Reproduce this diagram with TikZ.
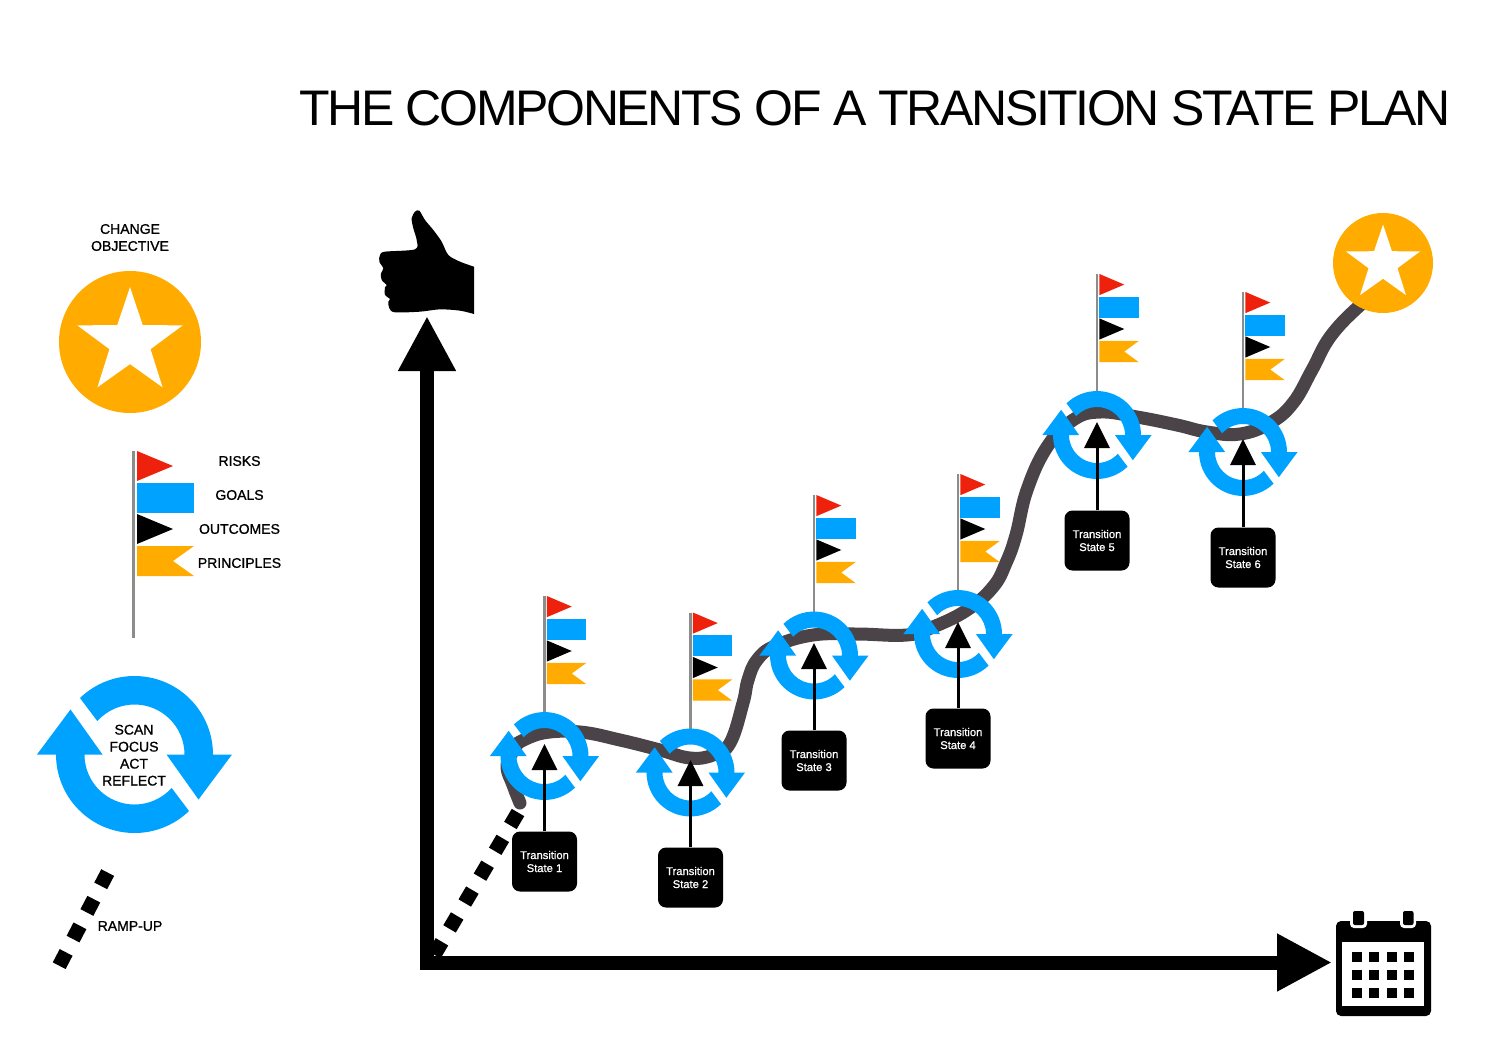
\documentclass[tikz,border=0pt]{standalone}
\usepackage{fontspec}
\setmainfont{Liberation Sans}
\newfontfamily\titlefont[LetterSpace=-4.7]{Liberation Sans}
\newfontfamily\labfont[FakeBold=1]{Liberation Sans}
\usetikzlibrary{arrows.meta}
\definecolor{cblue}{HTML}{00A2FF}
\definecolor{cred}{HTML}{EE220C}
\definecolor{corange}{HTML}{FFAB00}
\definecolor{croad}{HTML}{4A4449}
\definecolor{cpole}{HTML}{8C8C8C}
\tikzset{
  lab/.style={font=\labfont\fontsize{14}{17}\selectfont,align=center,inner sep=0pt,text=black},
  tsbox/.style={fill=black,rounded corners=8pt,minimum width=65pt,minimum height=60pt,inner sep=0pt,align=center,text=white,font=\labfont\fontsize{11.2}{13}\selectfont},
  tsarrow/.style={line width=3pt,-{Triangle[width=25pt,length=26pt]},black},
  axisline/.style={line width=14pt,-{Triangle[width=54pt,length=55pt]},black},
  rampline/.style={line width=14.5pt,black,dash pattern=on 15pt off 15pt},
  roadline/.style={line width=13pt,croad,line cap=round,line join=round},
  polestyle/.style={line width=2pt,cpole}
}
\newcommand{\cycleicon}[3]{%
  \begin{scope}[shift={(#1,#2)},scale=#3,yscale=-1]
    \foreach \r in {0,180}{
      \fill[cblue,rotate=\r] (134:78.5) arc[start angle=134,end angle=0,radius=78.5]
        -- (97.5,0) -- (64,-45) -- (32,0) -- (50,0)
        arc[start angle=0,end angle=138,radius=50] -- cycle;
    }
  \end{scope}}
\newcommand{\flagset}[5]{% x y xscale yscale polelength
  \draw[cpole,line width=#3*3.4pt] (#1,#2) -- ++(0,#5);
  \begin{scope}[shift={(#1,#2)},xscale=#3,yscale=#4]
    \fill[cred] (3.5,0) -- (39.5,15) -- (3.5,30) -- cycle;
    \fill[cblue] (3.5,32) rectangle (60.5,62);
    \fill[black] (3.5,63) -- (39.5,78) -- (3.5,93) -- cycle;
    \fill[corange] (3.5,95) -- (60.5,95) -- (39.5,110) -- (60.5,125) -- (3.5,125) -- cycle;
  \end{scope}}
\newcommand{\starbadge}[4]{% x y R starR
  \fill[corange] (#1,#2) circle[radius=#3];
  \begin{scope}[shift={(#1,#2+0.5)},yscale=-1,scale=#4]
    \fill[white] (90:1) -- (126:.39) -- (162:1) -- (198:.39) -- (234:1) -- (270:.39)
      -- (306:1) -- (342:.39) -- (18:1) -- (54:.39) -- cycle;
  \end{scope}}
\begin{document}
\begin{tikzpicture}[x=1pt,y=-1pt]
\useasboundingbox (0,0) rectangle (1512,1042);
\fill[white] (0,0) rectangle (1512,1042);

% title
\node[anchor=center,inner sep=0pt,font=\titlefont\fontsize{50}{55}\selectfont] (title) at (875,108) {THE COMPONENTS OF A TRANSITION STATE PLAN};

% legend
\node[lab] (objective) at (130,237.5) {CHANGE\\OBJECTIVE};
\starbadge{130}{342}{71}{55.4}
\flagset{133.5}{451}{1}{1}{187}
\node[lab] (risks) at (239.5,461) {RISKS};
\node[lab] (goals) at (239.5,495) {GOALS};
\node[lab] (outcomes) at (239.5,529) {OUTCOMES};
\node[lab] (principles) at (239.5,563) {PRINCIPLES};
\cycleicon{134.5}{754.5}{1}
\node[lab] (cyc) at (134,755.2) {SCAN\\FOCUS\\ACT\\REFLECT};
\coordinate (la) at (59.2,965.7);
\coordinate (lb) at (107.8,872.3);
\draw[rampline] (la) -- (lb);
\node[lab] (ramp) at (130,926) {RAMP-UP};

% road
\draw[roadline] plot[smooth,tension=.6] coordinates {(520,803) (513,785) (507,765) (518,743)};
\draw[roadline] plot[smooth,tension=.7] coordinates {
 (518,743) (543,733) (580,732) (620,740) (660,750) (690,758) (713,755) (730,743) (743,703) (748,680)
 (757,660) (775,646) (813,635) (857,634) (907,635) (933,627) (967,610) (993,587) (1006,563) (1016,535) (1027,490)
 (1047,447) (1073,420) (1100,412) (1137,417) (1177,425) (1207,432) (1240,434) (1270,423) (1293,403) (1312,370) (1330,337) (1357,308) (1375,295)};
\starbadge{1383}{263}{50}{39}

% flags
\flagset{544.5}{596}{.69}{.705}{120}
\flagset{690.5}{612.5}{.69}{.705}{120}
\flagset{814}{495}{.69}{.705}{120}
\flagset{958}{474}{.69}{.705}{120}
\flagset{1097}{274}{.69}{.705}{120}
\flagset{1243}{292}{.69}{.705}{120}

% cycles
\cycleicon{544.5}{756}{.56}
\cycleicon{690.5}{772.5}{.56}
\cycleicon{814}{655.5}{.56}
\cycleicon{958}{634}{.56}
\cycleicon{1097}{435}{.56}
\cycleicon{1243}{452}{.56}

% axes
\coordinate (ybase) at (427,969);
\coordinate (ytip) at (427,316);
\coordinate (xbase) at (420,962.5);
\coordinate (xtip) at (1332,962.5);
\draw[axisline] (ybase) -- (ytip);
\draw[axisline] (xbase) -- (xtip);

% ramp
\coordinate (ra) at (433,957);
\coordinate (rb) at (518,812.5);
\draw[rampline] (rb) -- (ra);

% states
\node[tsbox] (ts1) at (544.5,861.5) {Transition\\State 1};
\node[tsbox] (ts2) at (690.5,877.5) {Transition\\State 2};
\node[tsbox] (ts3) at (814,760.5) {Transition\\State 3};
\node[tsbox] (ts4) at (958,738.5) {Transition\\State 4};
\node[tsbox] (ts5) at (1097,540.5) {Transition\\State 5};
\node[tsbox] (ts6) at (1243,557.5) {Transition\\State 6};
\coordinate (t1) at (544.5,744);
\coordinate (t2) at (690.5,760);
\coordinate (t3) at (814,643);
\coordinate (t4) at (958,622);
\coordinate (t5) at (1097,422);
\coordinate (t6) at (1243,439);
\foreach \i in {1,...,6}{\draw[tsarrow] (ts\i) -- (t\i);}

% thumb
\begin{scope}[shift={(370,200)},scale=1/3]
\fill[black] (312,342) -- plot[smooth,tension=.5] coordinates {(312,342) (270,332) (210,328) (150,335) (75,337) (58,325) (55,305) (60,297) (45,285) (45,262) (50,255) (35,240) (33,220) (40,205) (28,185) (30,165) (45,155) (135,148) (140,120) (130,85) (125,55) (135,35) (148,32) (165,60) (190,90) (215,125) (235,165) (270,185) (312,200)} -- cycle;
\end{scope}

% calendar
\fill[black,rounded corners=5pt] (1336,921) rectangle (1431,1016);
\fill[white] (1342,942) rectangle (1424,1006);
\fill[white,rounded corners=4pt] (1350,915) rectangle (1367,928);
\fill[white,rounded corners=4pt] (1400,915) rectangle (1416,928);
\fill[black,rounded corners=2pt] (1353,911) rectangle (1364,925);
\fill[black,rounded corners=2pt] (1403,911) rectangle (1413.5,925);
\foreach \cx in {1352,1369,1387,1404}{\foreach \cy in {952,970,988}{
  \fill[black] (\cx,\cy) rectangle ++(10,10);}}
\end{tikzpicture}
\end{document}
